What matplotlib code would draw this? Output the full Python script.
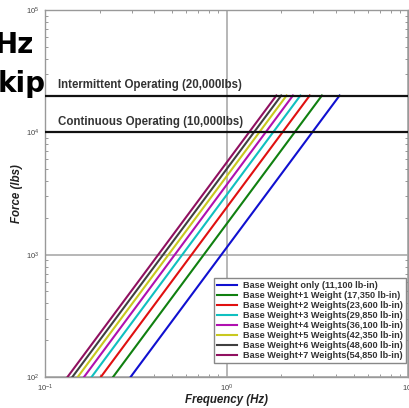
import matplotlib
matplotlib.use("Agg")
import matplotlib.pyplot as plt
import numpy as np

plt.rcParams["font.family"] = ["Liberation Sans", "DejaVu Sans"]
plt.rcParams["mathtext.fontset"] = "custom"
plt.rcParams["mathtext.rm"] = "Liberation Sans"

# series labels and line endpoints (force 100 lbs -> 20,000 lbs cap)
LABELS = [
    "Base Weight only (11,100 lb-in)",
    "Base Weight+1 Weight (17,350 lb-in)",
    "Base Weight+2 Weights(23,600 lb-in)",
    "Base Weight+3 Weights(29,850 lb-in)",
    "Base Weight+4 Weights(36,100 lb-in)",
    "Base Weight+5 Weights(42,350 lb-in)",
    "Base Weight+6 Weights(48,600 lb-in)",
    "Base Weight+7 Weights(54,850 lb-in)",
]
COLORS = ["#1010d0", "#108010", "#e01010", "#10c0c0",
          "#b010b0", "#c8c820", "#404040", "#901060"]
F_START = [0.296, 0.237, 0.203, 0.1805, 0.164, 0.1515, 0.1415, 0.133]
F_END = [4.19, 3.35, 2.87, 2.55, 2.32, 2.14, 2.00, 1.88]
FORCE_ENDS = [100, 20000]

INTERMITTENT = 20000
CONTINUOUS = 10000

fig = plt.figure(figsize=(4.09, 4.08), dpi=100)
ax = fig.add_axes([0.110, 0.076, 0.888, 0.8995])
ax.set_xscale("log")
ax.set_yscale("log")
ax.set_xlim(0.1, 10)
ax.set_ylim(100, 1e5)

for lab, c, f0, f1 in zip(LABELS, COLORS, F_START, F_END):
    ax.plot([f0, f1], FORCE_ENDS, color=c, lw=1.5, label=lab, zorder=3)

ax.axhline(INTERMITTENT, color="#111111", lw=1.6, zorder=4)
ax.axhline(CONTINUOUS, color="#111111", lw=1.6, zorder=4)
ax.text(0.118, INTERMITTENT * 1.09, "Intermittent Operating (20,000lbs)",
        fontsize=8.3, fontweight="bold", color="#333333", va="bottom")
ax.text(0.118, CONTINUOUS * 1.09, "Continuous Operating (10,000lbs)",
        fontsize=8.3, fontweight="bold", color="#333333", va="bottom")

ax.grid(True, which="major", color="#aaaaaa", lw=1.2, zorder=1)
for s in ax.spines.values():
    s.set_color("#999999")
    s.set_linewidth(1.0)
ax.tick_params(which="both", direction="in", top=True, right=True,
               color="#888888", labelsize=5.5, labelcolor="#444444")
ax.tick_params(which="major", length=0, pad=4)
ax.tick_params(which="minor", length=2.5)

ax.set_xlabel("Frequency (Hz)", fontsize=8.3, fontweight="bold",
              fontstyle="italic", color="#222222", labelpad=0)
ax.set_ylabel("Force (lbs)", fontsize=8.3, fontweight="bold",
              fontstyle="italic", color="#222222", labelpad=2)

leg = ax.legend(loc="lower right", bbox_to_anchor=(0.994, 0.038),
                handlelength=2.2, labelspacing=0.1, borderpad=0.35,
                handletextpad=0.6, borderaxespad=0,
                fancybox=False, framealpha=1, edgecolor="#888888",
                prop={"weight": "bold", "size": 6.6})
for t in leg.get_texts():
    t.set_color("#333333")
leg.set_zorder(5)

# cropped heading text from the neighbouring slide
fig.text(0.083, 0.870, "Hz", fontsize=20, fontweight="bold",
         family="DejaVu Sans", color="black", ha="right", va="baseline",
         zorder=10)
fig.text(0.112, 0.775, "kip", fontsize=20, fontweight="bold",
         family="DejaVu Sans", color="black", ha="right", va="baseline",
         zorder=10)

fig.savefig("out.png", dpi=100)
